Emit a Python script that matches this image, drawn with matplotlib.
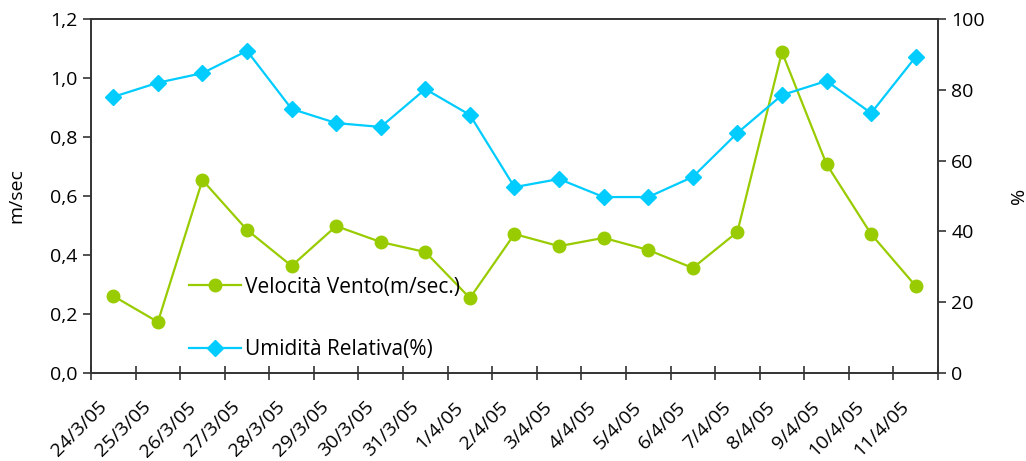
import matplotlib.pyplot as plt
import matplotlib.transforms as mtransforms
from matplotlib.ticker import FuncFormatter

plt.rcParams['font.family'] = ['Open Sans', 'DejaVu Sans']

# data
dates = ['24/3/05', '25/3/05', '26/3/05', '27/3/05', '28/3/05', '29/3/05', '30/3/05',
         '31/3/05', '1/4/05', '2/4/05', '3/4/05', '4/4/05', '5/4/05', '6/4/05',
         '7/4/05', '8/4/05', '9/4/05', '10/4/05', '11/4/05']
vento = [0.261, 0.173, 0.654, 0.485, 0.363, 0.498, 0.444, 0.41, 0.254, 0.471,
         0.43, 0.458, 0.417, 0.356, 0.478, 1.088, 0.708, 0.471, 0.295]
umidita = [78.0, 82.0, 84.7, 91.0, 74.6, 70.6, 69.5, 80.2, 72.9, 52.5,
           54.8, 49.7, 49.7, 55.4, 67.8, 78.5, 82.5, 73.4, 89.3]

GREEN = '#99cc00'
CYAN = '#00ccff'
AXCOL = '#333333'

fig = plt.figure(figsize=(10.26, 4.61), dpi=100)
ax = fig.add_axes([0.0887, 0.1909, 0.8255, 0.7679])
ax2 = ax.twinx()

x = list(range(len(dates)))
l1, = ax.plot(x, vento, color=GREEN, lw=1.6, marker='o', ms=9, label='Velocità Vento(m/sec.)')
l2, = ax2.plot(x, umidita, color=CYAN, lw=1.6, marker='D', ms=8, label='Umidità Relativa(%)')

ax.set_xlim(-0.5, len(dates) - 0.5)
ax.set_ylim(0, 1.2)
ax.set_yticks([0, 0.2, 0.4, 0.6, 0.8, 1.0, 1.2])
ax.yaxis.set_major_formatter(FuncFormatter(lambda v, p: f'{v:.1f}'.replace('.', ',')))
ax2.set_ylim(0, 100)
ax2.set_yticks(range(0, 101, 20))

# category ticks between dates, labels at date centres
ax.set_xticks([i - 0.5 for i in range(len(dates) + 1)])
ax.set_xticklabels([])
ax.set_xticks(x, minor=True)
ax.set_xticklabels(dates, minor=True, rotation=45, ha='right', rotation_mode='anchor', fontsize=14)
ax.tick_params(axis='x', which='minor', length=0, pad=18)
ax.tick_params(axis='x', which='major', direction='inout', length=10, color=AXCOL, width=1.2)
ax.tick_params(axis='y', direction='out', length=6, color=AXCOL, width=1.2, labelsize=14)
ax2.tick_params(axis='y', direction='out', length=6, color=AXCOL, width=1.2, labelsize=14)
# nudge the rotated date labels left, as in the original
shift = mtransforms.ScaledTranslation(-0.16, 0, fig.dpi_scale_trans)
for lab in ax.get_xticklabels(minor=True):
    lab.set_transform(lab.get_transform() + shift)

for a in (ax, ax2):
    for s in a.spines.values():
        s.set_color(AXCOL)
        s.set_linewidth(1.2)

ax.set_ylabel('m/sec', fontsize=14, labelpad=18)
ax2.set_ylabel('%', fontsize=14, labelpad=18)

ax.legend(handles=[l1, l2], loc='upper left', bbox_to_anchor=(0.093, 0.325), frameon=False,
          fontsize=15, handlelength=2.5, labelspacing=2.0, handletextpad=0.2)

fig.savefig('out.png', dpi=100)
